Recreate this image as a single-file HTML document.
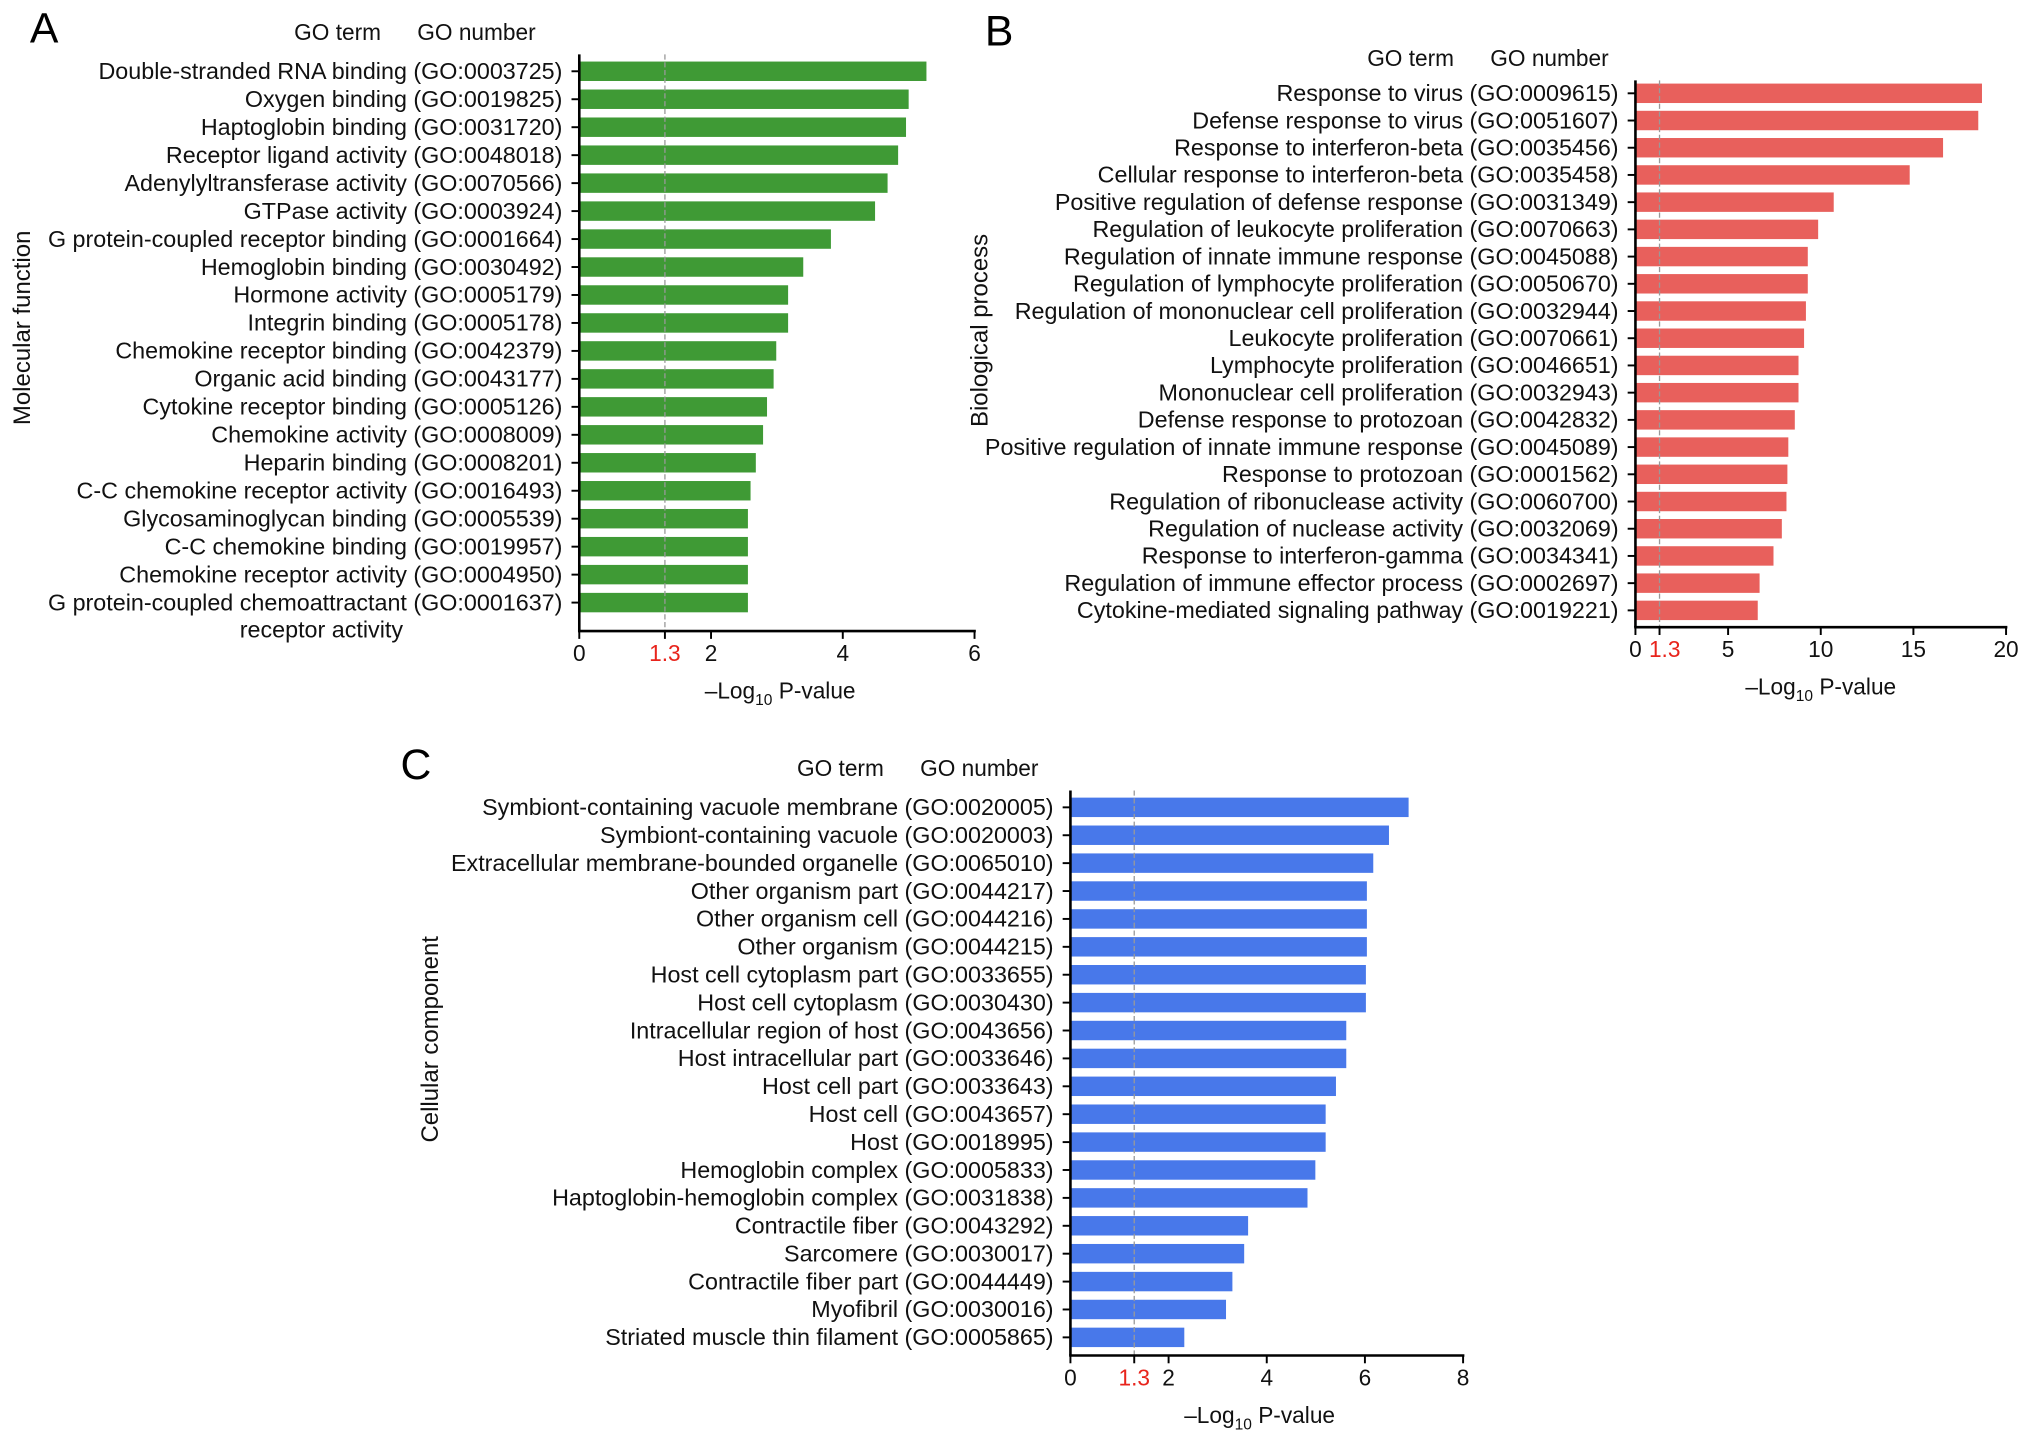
<!DOCTYPE html>
<html><head><meta charset="utf-8"><style>
html,body{margin:0;padding:0;background:#fff;}
svg{display:block;font-family:"Liberation Sans",Arial,sans-serif;}
</style></head><body>
<svg id="fig" width="2032" height="1447" viewBox="0 0 1568 1116.6" xmlns="http://www.w3.org/2000/svg"></svg>
<script>
const catsA=["Double-stranded RNA binding (GO:0003725)","Oxygen binding (GO:0019825)","Haptoglobin binding (GO:0031720)","Receptor ligand activity (GO:0048018)","Adenylyltransferase activity (GO:0070566)","GTPase activity (GO:0003924)","G protein-coupled receptor binding (GO:0001664)","Hemoglobin binding (GO:0030492)","Hormone activity (GO:0005179)","Integrin binding (GO:0005178)","Chemokine receptor binding (GO:0042379)","Organic acid binding (GO:0043177)","Cytokine receptor binding (GO:0005126)","Chemokine activity (GO:0008009)","Heparin binding (GO:0008201)","C-C chemokine receptor activity (GO:0016493)","Glycosaminoglycan binding (GO:0005539)","C-C chemokine binding (GO:0019957)","Chemokine receptor activity (GO:0004950)","G protein-coupled chemoattractant (GO:0001637)"];
const valsA=[5.27,5.0,4.96,4.84,4.68,4.49,3.82,3.40,3.17,3.17,2.99,2.95,2.85,2.79,2.68,2.60,2.56,2.56,2.56,2.56];
const ticksA=[0,2,4,6];
const catsB=["Response to virus (GO:0009615)","Defense response to virus (GO:0051607)","Response to interferon-beta (GO:0035456)","Cellular response to interferon-beta (GO:0035458)","Positive regulation of defense response (GO:0031349)","Regulation of leukocyte proliferation (GO:0070663)","Regulation of innate immune response (GO:0045088)","Regulation of lymphocyte proliferation (GO:0050670)","Regulation of mononuclear cell proliferation (GO:0032944)","Leukocyte proliferation (GO:0070661)","Lymphocyte proliferation (GO:0046651)","Mononuclear cell proliferation (GO:0032943)","Defense response to protozoan (GO:0042832)","Positive regulation of innate immune response (GO:0045089)","Response to protozoan (GO:0001562)","Regulation of ribonuclease activity (GO:0060700)","Regulation of nuclease activity (GO:0032069)","Response to interferon-gamma (GO:0034341)","Regulation of immune effector process (GO:0002697)","Cytokine-mediated signaling pathway (GO:0019221)"];
const valsB=[18.7,18.5,16.6,14.8,10.7,9.86,9.3,9.3,9.2,9.1,8.8,8.8,8.6,8.25,8.2,8.15,7.9,7.45,6.7,6.6];
const ticksB=[0,5,10,15,20];
const catsC=["Symbiont-containing vacuole membrane (GO:0020005)","Symbiont-containing vacuole (GO:0020003)","Extracellular membrane-bounded organelle (GO:0065010)","Other organism part (GO:0044217)","Other organism cell (GO:0044216)","Other organism (GO:0044215)","Host cell cytoplasm part (GO:0033655)","Host cell cytoplasm (GO:0030430)","Intracellular region of host (GO:0043656)","Host intracellular part (GO:0033646)","Host cell part (GO:0033643)","Host cell (GO:0043657)","Host (GO:0018995)","Hemoglobin complex (GO:0005833)","Haptoglobin-hemoglobin complex (GO:0031838)","Contractile fiber (GO:0043292)","Sarcomere (GO:0030017)","Contractile fiber part (GO:0044449)","Myofibril (GO:0030016)","Striated muscle thin filament (GO:0005865)"];
const valsC=[6.89,6.49,6.17,6.04,6.04,6.04,6.02,6.02,5.62,5.62,5.41,5.2,5.2,4.99,4.83,3.62,3.54,3.3,3.17,2.32];
const ticksC=[0,2,4,6,8];
const threshold=1.3;

const NS="http://www.w3.org/2000/svg";
const svg=document.getElementById('fig');
function mk(tag,attrs,parent,text){const e=document.createElementNS(NS,tag);for(const k in attrs)e.setAttribute(k,attrs[k]);if(text!==undefined)e.textContent=text;parent.appendChild(e);return e;}

function panel(cfg){
  const g=mk('g',{},svg);
  
  
  const xs=v=>cfg.x0+(v/cfg.max)*(cfg.x1-cfg.x0);
  const n=cfg.cats.length;
  const ys=i=>cfg.yFirst+i*(cfg.yLast-cfg.yFirst)/(n-1);
  const L=mk('text',{x:cfg.letter[0],y:cfg.letter[1],'font-size':33,fill:'#000'},g,cfg.letterText);
  
  
  const h1=mk('text',{x:cfg.header[0],y:cfg.header[1],'font-size':17.5,fill:'#111'},g,'GO term');
  
  
  const h2=mk('text',{x:cfg.header[0]+95,y:cfg.header[1],'font-size':17.5,fill:'#111'},g,'GO number');
  
  
  const yt=mk('text',{x:0,y:0,'font-size':18.5,fill:'#111','text-anchor':'middle',transform:`translate(${cfg.ytitle[0]},${cfg.ytitle[1]}) rotate(-90)`},g,cfg.ytitleText);
  
  
  for(let i=0;i<n;i++){
    const y=ys(i);
    const b=mk('rect',{x:xs(0),y:y-7.5,width:xs(cfg.vals[i])-xs(0),height:15,fill:cfg.color},g);
    
    
    mk('line',{x1:xs(0)-6,x2:xs(0),y1:y,y2:y,stroke:'#000','stroke-width':1.5},g);
    const t=mk('text',{x:xs(0)-13,y:y+6,'font-size':18,fill:'#111','text-anchor':'end'},g,cfg.cats[i]);
    
    
  }
  if(cfg.extra){const t=mk('text',{x:cfg.extra[0],y:cfg.extra[1],'font-size':18,fill:'#111','text-anchor':'middle'},g,cfg.extra[2]);
    
    }
  const dl=mk('line',{x1:xs(threshold),x2:xs(threshold),y1:cfg.top,y2:cfg.axisY,stroke:'#999','stroke-width':1,'stroke-dasharray':'4,2'},g);
  
  
  const ya=mk('line',{x1:xs(0),x2:xs(0),y1:cfg.top,y2:cfg.axisY,stroke:'#000','stroke-width':2},g);
  
  
  const xa=mk('line',{x1:xs(0)-1,x2:xs(cfg.max)+1,y1:cfg.axisY,y2:cfg.axisY,stroke:'#000','stroke-width':2},g);
  
  
  cfg.ticks.forEach(v=>{
    mk('line',{x1:xs(v),x2:xs(v),y1:cfg.axisY,y2:cfg.axisY+6,stroke:'#000','stroke-width':1.5},g);
    const t=mk('text',{x:xs(v),y:cfg.axisY+23,'font-size':17.5,fill:'#111','text-anchor':'middle'},g,String(v));
    
    
  });
  mk('line',{x1:xs(threshold),x2:xs(threshold),y1:cfg.axisY,y2:cfg.axisY+6,stroke:'#000','stroke-width':1.5},g);
  const tt=mk('text',{x:xs(threshold)+(cfg.thOff||0),y:cfg.axisY+23,'font-size':17.5,fill:'#e8241c','text-anchor':'middle'},g,String(threshold));
  
  
  const xt=mk('text',{x:cfg.xtitle,y:cfg.axisY+52,'font-size':17.5,fill:'#111','text-anchor':'middle'},g);
  
  
  mk('tspan',{},xt,'–Log');
  mk('tspan',{dy:5,'font-size':12},xt,'10');
  mk('tspan',{dy:-5},xt,' P-value');
}
panel({name:'panel-a-molecular-function',cats:catsA,vals:valsA,ticks:ticksA,max:6,x0:447,x1:752,yFirst:55,yLast:465,top:42,axisY:487,color:'#3f9a35',letter:[23,33],letterText:'A',header:[227,31],ytitle:[23,253],ytitleText:'Molecular function',extra:[248,492,'receptor activity'],xtitle:602});
panel({name:'panel-b-biological-process',cats:catsB,vals:valsB,ticks:ticksB,max:20,x0:1262,x1:1548,yFirst:72,yLast:471,top:62,axisY:484,color:'#e8605c',letter:[760,35],letterText:'B',header:[1055,51],ytitle:[762,255],ytitleText:'Biological process',xtitle:1405,thOff:4});
panel({name:'panel-c-cellular-component',cats:catsC,vals:valsC,ticks:ticksC,max:8,x0:826,x1:1129,yFirst:623,yLast:1032,top:610,axisY:1046,color:'#4878ea',letter:[309,601],letterText:'C',header:[615,599],ytitle:[338,802],ytitleText:'Cellular component',xtitle:972});
</script>
</body></html>
